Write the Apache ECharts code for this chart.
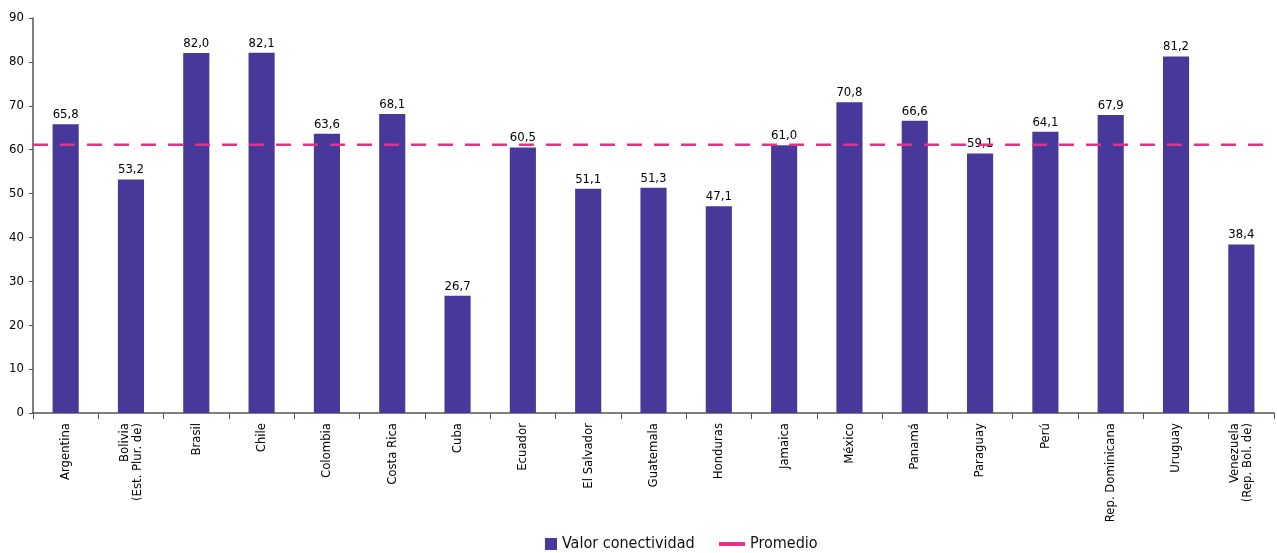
<!DOCTYPE html>
<html><head><meta charset="utf-8">
<script src="https://cdn.jsdelivr.net/npm/echarts@6/dist/echarts.min.js"></script>
<style>html,body{margin:0;padding:0;background:#fff}#c{width:1277px;height:553px}</style>
</head><body><div id="c"></div>
<script>
const categories = ["Argentina","Bolivia\n(Est. Plur. de)","Brasil","Chile","Colombia","Costa Rica","Cuba","Ecuador","El Salvador","Guatemala","Honduras","Jamaica","México","Panamá","Paraguay","Perú","Rep. Dominicana","Uruguay","Venezuela\n(Rep. Bol. de)"];
const valorConectividad = [65.8,53.2,82.0,82.1,63.6,68.1,26.7,60.5,51.1,51.3,47.1,61.0,70.8,66.6,59.1,64.1,67.9,81.2,38.4];
const promedio = [61.1,61.1,61.1,61.1,61.1,61.1,61.1,61.1,61.1,61.1,61.1,61.1,61.1,61.1,61.1,61.1,61.1,61.1,61.1];
const yTicks = [0,10,20,30,40,50,60,70,80,90];

const FONT = '"DejaVu Sans Condensed","Liberation Sans Narrow","Roboto",sans-serif';
const BAR = '#47389A', PINK = '#E6318B';
const chart = echarts.init(document.getElementById('c'), null, {renderer:'canvas'});
chart.setOption({
  animation:false,
  textStyle:{fontFamily:FONT},
  grid:{left:33,right:3,top:18,bottom:140,containLabel:false},
  legend:[{
    top:531,left:540,
    textStyle:{fontFamily:FONT,fontSize:16,color:'#111'},
    data:[{name:'Valor conectividad',icon:'rect',itemStyle:{color:BAR}}],
    itemWidth:12,itemHeight:12,itemGap:6
  },{
    top:531,left:714,
    textStyle:{fontFamily:FONT,fontSize:16,color:'#111'},
    data:[{name:'Promedio',icon:'rect',itemStyle:{color:PINK}}],
    itemWidth:26,itemHeight:4
  }],
  xAxis:[{
    type:'category',data:categories,
    axisLine:{lineStyle:{color:'#555',width:1.5}},
    axisTick:{show:true,length:6,lineStyle:{color:'#555'}},
    axisLabel:{rotate:90,interval:0,fontFamily:FONT,fontSize:13,color:'#000',lineHeight:13,margin:10}
  },{
    type:'category',data:categories,boundaryGap:false,show:false
  }],
  yAxis:{
    type:'value',min:0,max:90,interval:10,
    axisLine:{show:true,lineStyle:{color:'#555',width:1.5}},
    axisTick:{show:true,length:4,lineStyle:{color:'#555'}},
    splitLine:{show:false},
    axisLabel:{fontFamily:FONT,fontSize:13,color:'#000',margin:9,
      formatter:v=>yTicks.includes(v)?String(v):''}
  },
  series:[{
    name:'Valor conectividad',type:'bar',data:valorConectividad,barWidth:'40%',
    itemStyle:{color:BAR},
    label:{show:true,position:'top',distance:3,fontFamily:FONT,fontSize:13,color:'#000',
      formatter:p=>p.value.toFixed(1).replace('.',',')}
  },{
    name:'Promedio',type:'line',xAxisIndex:1,data:promedio,symbol:'none',
    itemStyle:{color:PINK},
    lineStyle:{color:PINK,width:2.5,type:[15,12]},
    z:5
  }]
});
</script></body></html>
